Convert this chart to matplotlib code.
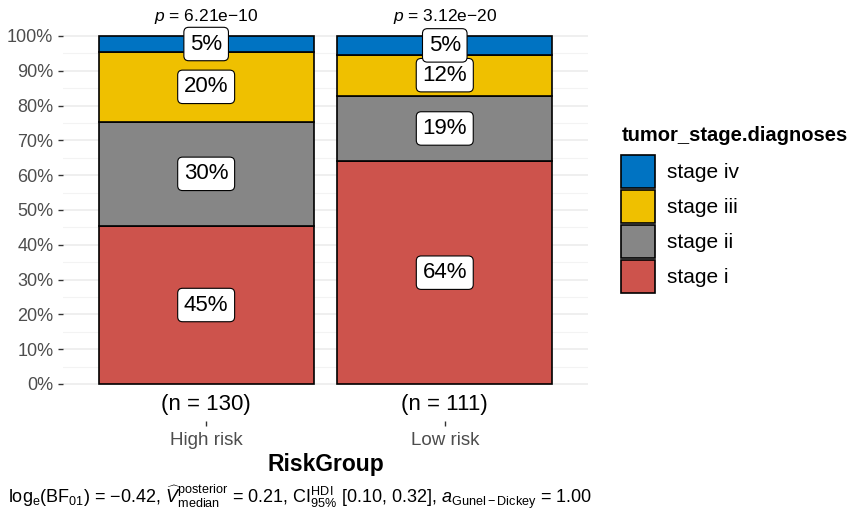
import matplotlib.pyplot as plt
from matplotlib.patches import Patch
import numpy as np

plt.rcParams['font.family'] = ['Liberation Sans', 'DejaVu Sans']
plt.rcParams['mathtext.fontset'] = 'custom'
plt.rcParams['mathtext.rm'] = 'Liberation Sans'
plt.rcParams['mathtext.it'] = 'Liberation Sans:italic'
plt.rcParams['mathtext.bf'] = 'Liberation Sans:bold'

groups = ['High risk', 'Low risk']
stages = ['stage i', 'stage ii', 'stage iii', 'stage iv']
# patient counts per stage, stacked bottom to top
counts = {
    'stage i': [59, 71],
    'stage ii': [39, 21],
    'stage iii': [26, 13],
    'stage iv': [6, 6],
}
colors = {'stage i': '#CD534C', 'stage ii': '#868686',
          'stage iii': '#EFC000', 'stage iv': '#0073C2'}
p_labels = ['6.21e\u221210', '3.12e\u221220']

totals = np.array([sum(counts[s][i] for s in stages) for i in range(len(groups))])
x = np.arange(1, len(groups) + 1)

fig = plt.figure(figsize=(8.5, 5.16), dpi=100)
ax = fig.add_axes([0.0741, 0.1837, 0.6176, 0.7533])

bottom = np.zeros(len(groups))
for s in stages:
    frac = np.array(counts[s]) / totals
    ax.bar(x, frac, bottom=bottom, width=0.9, color=colors[s],
           edgecolor='black', linewidth=1.2, zorder=3)
    for xi, b, f in zip(x, bottom, frac):
        ax.text(xi, b + f / 2, f'{round(f * 100):.0f}%', ha='center', va='center',
                fontsize=16, zorder=5,
                bbox=dict(boxstyle='round,pad=0.28,rounding_size=0.22',
                          fc='white', ec='black', lw=0.8))
    bottom += frac

for xi, n, p in zip(x, totals, p_labels):
    ax.text(xi, -0.06, f'(n = {n})', ha='center', va='center', fontsize=16)
    ax.text(xi, 1.055, f'$p$ = {p}', ha='center', va='center', fontsize=12.5,
            clip_on=False)

ax.set_xlim(0.4, 2.6)
ax.set_ylim(-0.107, 1.01)
ax.set_yticks(np.linspace(0, 1, 11))
ax.set_yticklabels([f'{v}%' for v in range(0, 101, 10)])
ax.set_yticks(np.arange(0.05, 1.0, 0.1), minor=True)
ax.set_xticks(x)
ax.set_xticklabels(groups)
ax.tick_params(axis='both', labelsize=13, labelcolor='#4D4D4D', color='#333333',
               length=3.5, width=1)
ax.tick_params(axis='x', labelsize=13.5, pad=4)
ax.tick_params(axis='y', which='minor', length=0)
ax.grid(axis='y', which='major', color='#EBEBEB', lw=1.1, zorder=0)
ax.grid(axis='y', which='minor', color='#F3F3F3', lw=0.8, zorder=0)
for sp in ax.spines.values():
    sp.set_visible(False)

fig.text(0.383, 0.099, 'RiskGroup', ha='center', va='center', fontsize=16.5,
         fontweight='bold')
fig.text(0.009, 0.037,
         r'$\mathrm{log}_{\mathrm{e}}(\mathrm{BF}_{01})$ = ' + '\u2212' + '0.42, '
         r'$\widehat{V}^{\mathrm{posterior}}_{\mathrm{median}}$ = 0.21, '
         r'$\mathrm{CI}^{\mathrm{HDI}}_{95\%}$ [0.10, 0.32], '
         r'$a_{\mathrm{Gunel-Dickey}}$ = 1.00',
         ha='left', va='center', fontsize=13)

handles = [Patch(facecolor=colors[s], edgecolor='black', lw=1.2, label=s)
           for s in reversed(stages)]
leg = fig.legend(handles=handles, title='tumor_stage.diagnoses',
                 loc='upper left', bbox_to_anchor=(0.731, 0.755), frameon=False,
                 fontsize=15, title_fontproperties={'weight': 'bold', 'size': 14.5},
                 handlelength=1.6, handleheight=2.08, handletextpad=0.6,
                 labelspacing=0.08, alignment='left', borderaxespad=0,
                 borderpad=0)
# a little more room between the legend title and the keys
leg._legend_box.sep = 7

fig.savefig('out.png', dpi=100)
